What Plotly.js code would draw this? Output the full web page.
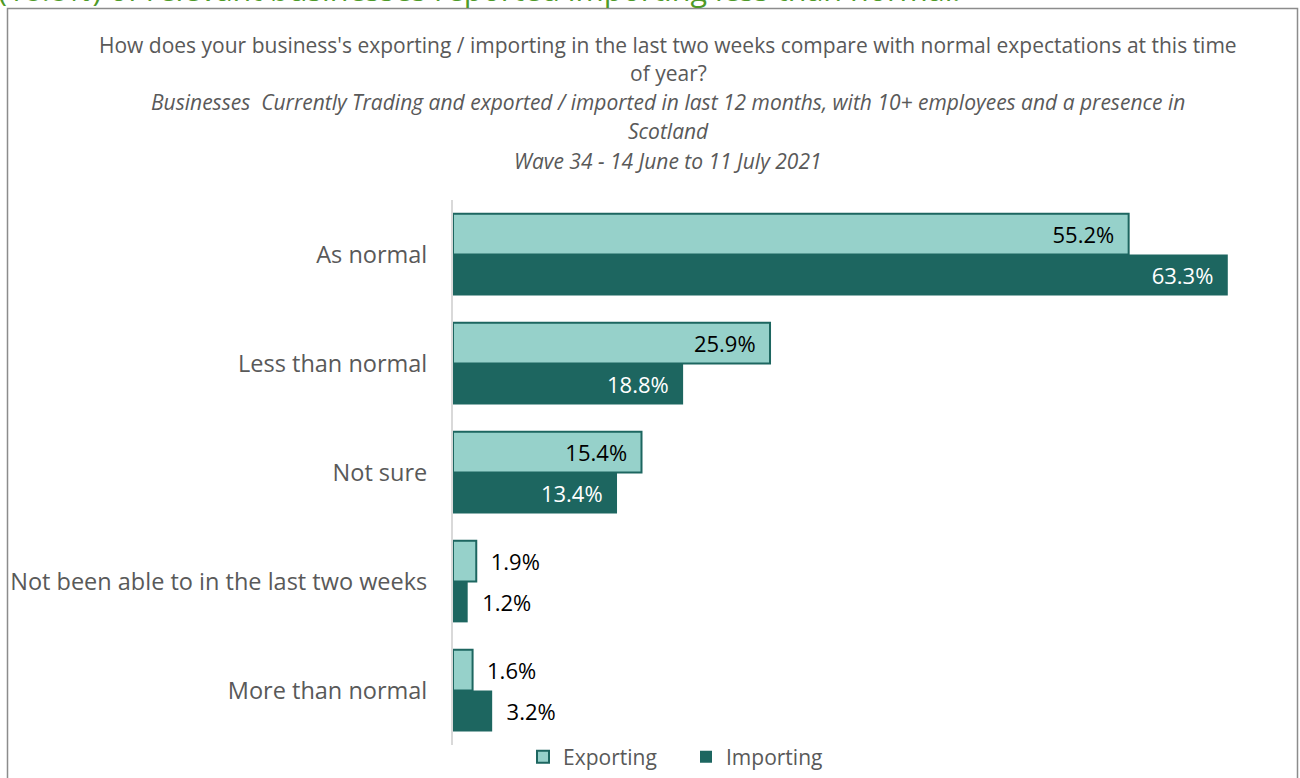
<!DOCTYPE html>
<html>
<head>
<meta charset="utf-8">
<script src="https://cdn.plot.ly/plotly-3.0.1.min.js"></script>
<style>
html,body{margin:0;padding:0;background:#fff;}
#chart{width:1300px;height:778px;}
</style>
</head>
<body>
<div id="chart"></div>
<script>
const categories = ["As normal", "Less than normal", "Not sure", "Not been able to in the last two weeks", "More than normal"];
const exporting = [55.2, 25.9, 15.4, 1.9, 1.6];
const importing = [63.3, 18.8, 13.4, 1.2, 3.2];
const seriesNames = ["Exporting", "Importing"];
const titleLines = [
  "How does your business's exporting / importing in the last two weeks compare with normal expectations at this time",
  "of year?",
  "<i>Businesses  Currently Trading and exported / imported in last 12 months, with 10+ employees and a presence in</i>",
  "<i>Scotland</i>",
  "<i>Wave 34 - 14 June to 11 July 2021</i>"
];
const headline = "(18.8%) of relevant businesses reported importing less than normal.";

const FONT = "'Open Sans', 'Noto Sans', sans-serif";
const L = 453, R = 10, T = 200, B = 33, W = 1300, H = 778;
const pw = W - L - R, ph = H - T - B;
const px = x => (x - L) / pw;
const py = y => (H - B - y) / ph;

const pad = "\u00A0\u00A0";
const fmt = v => pad + v.toFixed(1) + "%" + pad;

const traces = [
  {
    type: "bar", orientation: "h", name: seriesNames[0],
    y: categories, x: exporting,
    text: exporting.map(fmt), textposition: "auto",
    insidetextanchor: "end",
    insidetextfont: {color: "#000000", size: 22, family: FONT},
    outsidetextfont: {color: "#000000", size: 22, family: FONT},
    constraintext: "none", cliponaxis: false,
    marker: {color: "#96D1CA", line: {color: "#1D6660", width: 2}},
    hoverinfo: "x+name"
  },
  {
    type: "bar", orientation: "h", name: seriesNames[1],
    y: categories, x: importing,
    text: importing.map(fmt), textposition: "auto",
    insidetextanchor: "end",
    insidetextfont: {color: "#ffffff", size: 22, family: FONT},
    outsidetextfont: {color: "#000000", size: 22, family: FONT},
    constraintext: "none", cliponaxis: false,
    marker: {color: "#1D6660", line: {color: "#1D6660", width: 0}},
    hoverinfo: "x+name"
  }
];

const annotations = titleLines.map((t, i) => ({
  xref: "paper", yref: "paper", x: px(668), y: py([45, 73, 102, 131, 161][i]),
  xanchor: "center", yanchor: "middle", showarrow: false, text: t,
  font: {family: FONT, size: 21, color: "#595959"}
}));
annotations.push({
  xref: "paper", yref: "paper", x: px(-4), y: py(-11),
  xanchor: "left", yanchor: "middle", showarrow: false, text: headline,
  font: {family: FONT, size: 30.5, color: "#4E9A28"}
});

const layout = {
  width: W, height: H,
  margin: {l: L, r: R, t: T, b: B, pad: 0, autoexpand: false},
  paper_bgcolor: "#ffffff", plot_bgcolor: "#ffffff",
  font: {family: FONT, color: "#595959"},
  barmode: "group", bargap: 0.25, bargroupgap: 0,
  showlegend: true,
  legend: {
    orientation: "h", xref: "paper", yref: "paper",
    x: px(686), xanchor: "center", y: py(777.5), yanchor: "bottom",
    font: {family: FONT, size: 21, color: "#595959"},
    traceorder: "normal", itemwidth: 30, entrywidth: 118
  },
  xaxis: {
    range: [0, pw / 12.24], showgrid: false, zeroline: false,
    showticklabels: false, ticks: "", showline: false, fixedrange: true
  },
  yaxis: {
    type: "category", categoryorder: "array", categoryarray: categories,
    autorange: "reversed", showgrid: false, zeroline: false,
    showline: true, linecolor: "#D9D9D9", linewidth: 2,
    ticks: "", ticklabelstandoff: 19,
    tickfont: {family: FONT, size: 23.5, color: "#595959"}, fixedrange: true
  },
  annotations: annotations,
  shapes: [{
    type: "rect", xref: "paper", yref: "paper",
    x0: px(7.5), x1: px(1297.5), y0: py(790), y1: py(8.5),
    line: {color: "#8C8C8C", width: 1.5}, fillcolor: "rgba(0,0,0,0)", layer: "below"
  }]
};

Plotly.newPlot("chart", traces, layout, {displayModeBar: false, staticPlot: true});
</script>
</body>
</html>
